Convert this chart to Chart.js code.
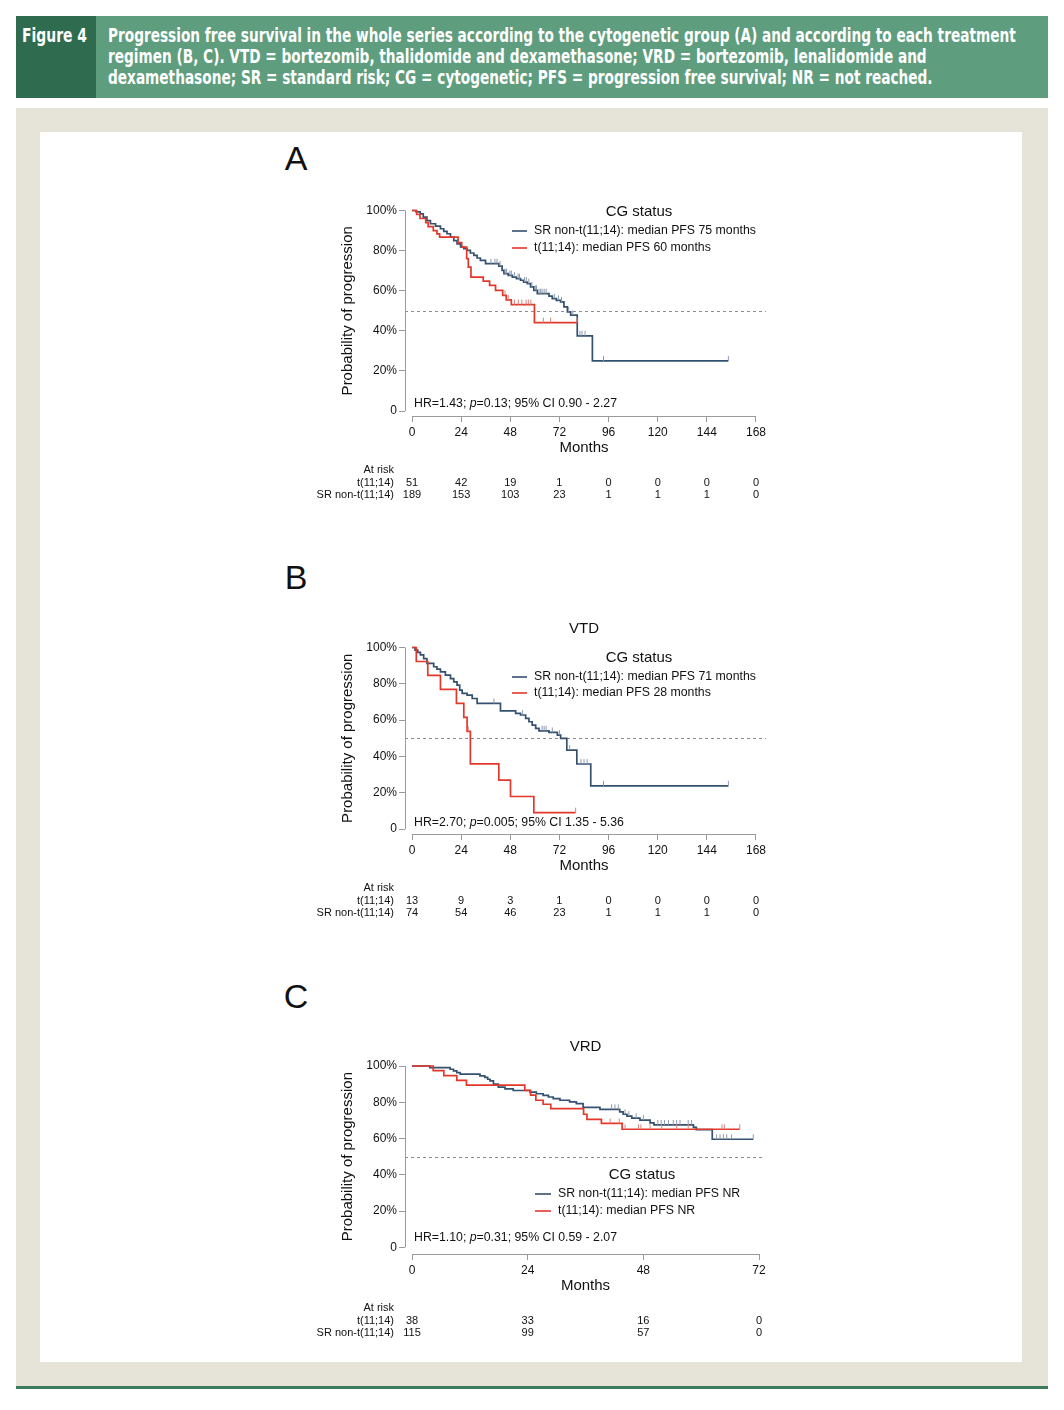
<!DOCTYPE html>
<html>
<head>
<meta charset="utf-8">
<script src="https://cdn.jsdelivr.net/npm/chart.js@4.4.1/dist/chart.umd.min.js"></script>
<style>
  html, body { margin: 0; padding: 0; background: #fff; }
  body { width: 1064px; height: 1410px; position: relative; overflow: hidden; font-family: "Liberation Sans", Arial, sans-serif; }
  #hdrDark { position: absolute; left: 16px; top: 16px; width: 80px; height: 82px; background: #2f6b4e; }
  #hdrLight { position: absolute; left: 96px; top: 16px; width: 952px; height: 82px; background: #5e9d7e; }
  .hdr { position: absolute; color: #fff; font-family: "Liberation Sans Narrow", "DejaVu Sans Condensed", sans-serif; font-weight: bold; font-size: 20px; line-height: 22px; white-space: nowrap; transform-origin: 0 50%; }
  #beige { position: absolute; left: 16px; top: 108px; width: 1032px; height: 1278px; background: #e6e4d9; }
  #white { position: absolute; left: 40px; top: 132px; width: 982px; height: 1230px; background: #fff; }
  #rule { position: absolute; left: 16px; top: 1386px; width: 1032px; height: 3px; background: #3b7a5b; }
  .letter { position: absolute; font-size: 34px; line-height: 34px; color: #111; transform: translate(-50%, -50%); }
  canvas { position: absolute; }
</style>
</head>
<body>
<div id="hdrDark"></div>
<div id="hdrLight"></div>
<div class="hdr" id="figLabel" style="left:22px; top:24px;">Figure 4</div>
<div class="hdr cap" style="left:108px; top:24px;">Progression free survival in the whole series according to the cytogenetic group (A) and according to each treatment</div>
<div class="hdr cap" style="left:108px; top:45px;">regimen (B, C). VTD = bortezomib, thalidomide and dexamethasone; VRD = bortezomib, lenalidomide and</div>
<div class="hdr cap" style="left:108px; top:66px;">dexamethasone; SR = standard risk; CG = cytogenetic; PFS = progression free survival; NR = not reached.</div>
<div id="beige"></div>
<div id="white"></div>
<div id="rule"></div>
<div class="letter" style="left:296px; top:158px;">A</div>
<div class="letter" style="left:296px; top:577px;">B</div>
<div class="letter" style="left:296px; top:996px;">C</div>

<script>
// ---- data ----
const monthsLong = [0, 24, 48, 72, 96, 120, 144, 168];
const monthsShort = [0, 24, 48, 72];
const pctTicks = [0, 20, 40, 60, 80, 100];
const riskRowLabels = ['t(11;14)', 'SR non-t(11;14)'];

// A: whole series  [month, % progression free]
const pfsA_sr = [[0,100],[2,99.3],[4,98.3],[5.5,96.7],[7.3,95],[9,93.4],[11.5,92.2],[13.9,90.9],[15.5,89.6],[17.1,88.4],[18.8,86.7],[20.4,85],[22,83.4],[23.7,81.8],[25.3,81],[26.9,80.1],[28.5,78.8],[30.2,77.6],[31.8,76.3],[33.4,75.1],[35.9,73.5],[42.4,72.3],[44,70.1],[44.9,68.5],[47,67.6],[49,66.8],[51,66],[53,65.2],[54.5,64.3],[56.3,63.5],[57.9,61.9],[59.5,60.2],[61.2,58.5],[66.9,57.3],[68.5,56],[70.5,55.2],[72.6,54.4],[74.2,51.9],[75.9,49.4],[77.5,47.8],[80.7,37.5],[88.1,25],[154.5,25]];
const censA_sr = [[38.5,73.5],[40.5,73.5],[41.5,73.5],[43,72.3],[45.5,68.5],[46.2,68.5],[47.8,67.6],[48.5,67.6],[50,66.8],[51.8,66],[52.5,66],[55,64.3],[55.8,64.3],[57,63.5],[58.5,61.9],[60.2,60.2],[60.8,60.2],[62,58.5],[62.8,58.5],[63.5,58.5],[64.5,58.5],[65.5,58.5],[69.5,56],[71.5,55.2],[73,54.4],[76.5,49.4],[78.5,47.8],[82,37.5],[83,37.5],[84.5,37.5],[93.5,25],[154.5,25]];
const pfsA_t = [[0,100],[2.3,98],[3.9,96],[6.7,94],[7.9,92],[10.4,90],[12.2,88.3],[13.5,86.7],[22.5,84],[24.3,81.7],[26.7,76],[27.5,71.8],[28.8,66.8],[34.8,64.8],[37.9,62.7],[40.8,60.2],[44.3,57.7],[46,55.4],[48.5,53.1],[59.8,44.1],[80.6,44.1]];
const censA_t = [[45.4,57.7],[47,55.4],[50,53.1],[51.9,53.1],[53.6,53.1],[55.7,53.1],[56.8,53.1],[58,53.1],[64.1,44.1],[67.7,44.1],[80.6,44.1]];
const riskA_t = [51, 42, 19, 1, 0, 0, 0, 0];
const riskA_sr = [189, 153, 103, 23, 1, 1, 1, 0];
const medianA = ['75 months', '60 months'];
const hrA = ['HR=1.43; ', 'p', '=0.13; 95% CI 0.90 - 2.27'];

// B: VTD
const pfsB_sr = [[0,100],[1.5,98.6],[2.8,97.3],[4.1,95.9],[5.7,93.9],[7.3,91.2],[10.6,89.4],[12.2,88.1],[13.9,86.6],[16.3,84.8],[18.8,82.9],[20.4,81.1],[22,79.3],[23.3,76.5],[24.5,74.7],[26.9,73.8],[29.4,71.9],[31.8,69.2],[43.2,65.1],[50.6,63.7],[53,62.8],[55.5,60.9],[57.1,59.1],[58.7,57.2],[60.4,55.4],[62,54.1],[66.9,53.2],[71,51.7],[72.6,49.9],[75.6,43.5],[80.5,35.8],[87.3,23.8],[154.5,23.8]];
const censB_sr = [[40,69.2],[54,62.8],[63.5,54.1],[64.5,54.1],[65.5,54.1],[68.5,53.2],[72,51.7],[77,43.5],[82.5,35.8],[84,35.8],[85.5,35.8],[93.5,23.8],[154.5,23.8]];
const pfsB_t = [[0,100],[2.1,92.3],[7.7,84.6],[13.9,76.9],[21.7,69.2],[25.3,61.5],[26.9,53.8],[28.5,35.9],[42.4,26.9],[48.1,17.9],[59.5,9],[79.9,9]];
const censB_t = [[27.5,53.8],[79.9,9]];
const riskB_t = [13, 9, 3, 1, 0, 0, 0, 0];
const riskB_sr = [74, 54, 46, 23, 1, 1, 1, 0];
const medianB = ['71 months', '28 months'];
const hrB = ['HR=2.70; ', 'p', '=0.005; 95% CI 1.35 - 5.36'];

// C: VRD
const pfsC_sr = [[0,100],[3.7,99.1],[7.9,98.2],[8.6,97.3],[9.3,96.4],[10,95.5],[14.1,94.6],[15.1,93.7],[15.7,92.7],[16.2,91.8],[16.9,90],[17.9,88.3],[19.3,87.4],[21,86.5],[24.5,85.6],[25.8,84.7],[27.2,83.8],[28.3,82.9],[29.3,82],[30.7,81.1],[32.7,80.2],[34.1,79.3],[35.5,77.2],[39,76.1],[43.1,74.7],[43.8,73.4],[44.6,72.4],[45.6,71.2],[47.3,70.2],[49.4,68.6],[50.2,67.5],[58.4,66.2],[59,64.9],[62.3,59.6],[70.8,59.6]];
const censC_sr = [[41.4,76.1],[42.1,76.1],[42.8,76.1],[44.2,73.4],[45,72.4],[46.5,71.2],[48,70.2],[51,67.5],[51.7,67.5],[52.4,67.5],[53.2,67.5],[54.2,67.5],[54.9,67.5],[55.6,67.5],[57.3,67.5],[58,67.5],[63.2,59.6],[63.9,59.6],[64.6,59.6],[65.3,59.6],[66.3,59.6],[70.8,59.6]];
const pfsC_t = [[0,100],[4.4,97.4],[6.6,94.7],[9.3,92.1],[11.3,89.5],[23.4,86.6],[24.6,83.9],[25.7,81.1],[27.2,78.9],[28.8,76.5],[35.6,73.4],[36.3,70.6],[39.3,68.3],[43.6,65.1],[68,65.1]];
const censC_t = [[41.1,68.3],[43,68.3],[44.2,65.1],[47,65.1],[47.5,65.1],[49.4,65.1],[51.8,65.1],[54.9,65.1],[57.3,65.1],[64.3,65.1],[64.8,65.1],[68,65.1]];
const riskC_t = [38, 33, 16, 0];
const riskC_sr = [115, 99, 57, 0];
const medianC = ['NR', 'NR'];
const hrC = ['HR=1.10; ', 'p', '=0.31; 95% CI 0.59 - 2.07'];

// ---- style ----
const FONT = '"Liberation Sans", Arial, Helvetica, sans-serif';
const BLUE = '#34516f';
const RED = '#e2382c';
const AXIS = '#9a9a9a';
const TEXT = '#111';

// fit the condensed header lines (one scale for all, set by the first line)
const capLines = document.querySelectorAll('.hdr.cap');
const capScale = 908 / capLines[0].scrollWidth;
capLines.forEach(el => { el.style.transform = 'scaleX(' + capScale + ')'; });
const fl = document.getElementById('figLabel');
fl.style.transform = 'scaleX(' + (65 / fl.scrollWidth) + ')';

function censorMark(color) {
  const c = document.createElement('canvas');
  c.width = 3; c.height = 12;
  const g = c.getContext('2d');
  g.strokeStyle = color; g.lineWidth = 1;
  g.beginPath(); g.moveTo(1.5, 1); g.lineTo(1.5, 6); g.stroke();
  return c;
}
const markBlue = censorMark('#8d9aae');
const markRed = censorMark('#d9837c');

const toXY = arr => arr.map(d => ({ x: d[0], y: d[1] }));

// p: page-pixel geometry of one panel
function makePanel(p) {
  const cLeft = 290, cWidth = 500;
  const cTop = p.top - 50, cHeight = p.axisY + 90 - cTop;
  const cv = document.createElement('canvas');
  cv.width = cWidth; cv.height = cHeight;
  cv.style.left = cLeft + 'px'; cv.style.top = cTop + 'px';
  cv.style.width = cWidth + 'px'; cv.style.height = cHeight + 'px';
  document.body.appendChild(cv);

  const lastM = p.months[p.months.length - 1];
  const pxm = (p.xEnd - p.x0) / lastM;
  const pxp = (p.y0 - p.y100) / 100;
  const xMin = (p.axisX - p.x0) / pxm, xMax = (p.right - p.x0) / pxm;
  const yMin = (p.y0 - p.axisY) / pxp, yMax = (p.y0 - p.top) / pxp;
  const areaLeft = p.axisX - cLeft;
  const areaBottom = p.axisY - cTop;
  const xAxisH = 30;

  const kmPlugin = {
    id: 'km',
    beforeDatasetsDraw(chart) {
      const { ctx, chartArea, scales: { x, y } } = chart;
      ctx.save();
      ctx.lineWidth = 1;
      ctx.strokeStyle = '#8c8c8c';
      ctx.setLineDash([3, 3]);
      const y50 = Math.round(y.getPixelForValue(50)) + 0.5;
      ctx.beginPath(); ctx.moveTo(chartArea.left, y50); ctx.lineTo(chartArea.right, y50); ctx.stroke();
      ctx.setLineDash([]);
      ctx.strokeStyle = AXIS;
      const ax = Math.round(chartArea.left) + 0.5;
      ctx.beginPath(); ctx.moveTo(ax, y.getPixelForValue(0)); ctx.lineTo(ax, y.getPixelForValue(100)); ctx.stroke();
      const ay = Math.round(chartArea.bottom) + 0.5;
      ctx.beginPath(); ctx.moveTo(x.getPixelForValue(0), ay); ctx.lineTo(x.getPixelForValue(lastM), ay); ctx.stroke();
      ctx.restore();
    },
    afterDraw(chart) {
      const { ctx, chartArea, scales: { x, y } } = chart;
      const bottom = chartArea.bottom;
      const midX = (x.getPixelForValue(0) + x.getPixelForValue(lastM)) / 2;
      ctx.save();
      ctx.fillStyle = TEXT;
      ctx.textBaseline = 'middle';

      // y title
      ctx.save();
      ctx.font = '15px ' + FONT;
      ctx.textAlign = 'center';
      ctx.translate(348 - cLeft, (y.getPixelForValue(0) + y.getPixelForValue(100)) / 2);
      ctx.rotate(-Math.PI / 2);
      ctx.fillText('Probability of progression', 0, 0);
      ctx.restore();

      // x title, panel title
      ctx.font = '15px ' + FONT;
      ctx.textAlign = 'center';
      ctx.fillText('Months', midX, bottom + 32);
      if (p.title) ctx.fillText(p.title, midX, y.getPixelForValue(100) - 19);

      // legend
      const L = p.legend;
      ctx.fillText('CG status', L.titleX - cLeft, L.titleY - cTop);
      ctx.font = '12.3px ' + FONT;
      ctx.textAlign = 'left';
      [[BLUE, 'SR non-t(11;14): median PFS ' + p.median[0], L.row1Y],
       [RED, 't(11;14): median PFS ' + p.median[1], L.row2Y]].forEach(r => {
        ctx.strokeStyle = r[0]; ctx.lineWidth = 1.6;
        ctx.beginPath();
        ctx.moveTo(L.lineX1 - cLeft, r[2] - cTop); ctx.lineTo(L.lineX2 - cLeft, r[2] - cTop);
        ctx.stroke();
        ctx.fillText(r[1], L.textX - cLeft, r[2] - cTop);
      });

      // HR text with italic p
      let hx = 414 - cLeft;
      const hy = p.hrY - cTop;
      p.hr.forEach((s, i) => {
        ctx.font = (i === 1 ? 'italic ' : '') + '12.3px ' + FONT;
        ctx.fillText(s, hx, hy);
        hx += ctx.measureText(s).width;
      });

      // at-risk table
      ctx.font = '11px ' + FONT;
      ctx.textAlign = 'right';
      const lx = 394 - cLeft;
      ctx.fillText('At risk', lx, bottom + 54);
      ctx.fillText(riskRowLabels[0], lx, bottom + 66.5);
      ctx.fillText(riskRowLabels[1], lx, bottom + 78.5);
      ctx.textAlign = 'center';
      p.months.forEach((m, i) => {
        const px = x.getPixelForValue(m);
        ctx.fillText(String(p.riskT[i]), px, bottom + 66.5);
        ctx.fillText(String(p.riskSR[i]), px, bottom + 78.5);
      });
      ctx.restore();
    }
  };

  const gridOpts = { display: true, drawOnChartArea: false, drawTicks: true, tickLength: 6, color: AXIS, lineWidth: 1 };

  return new Chart(cv, {
    type: 'line',
    data: {
      datasets: [
        { label: 't(11;14)', data: toXY(p.t), borderColor: RED, borderWidth: 1.7, stepped: true, pointRadius: 0, fill: false, order: 2 },
        { label: 'SR non-t(11;14)', data: toXY(p.sr), borderColor: BLUE, borderWidth: 1.7, stepped: true, pointRadius: 0, fill: false, order: 3 },
        { type: 'scatter', data: toXY(p.tCens), pointStyle: markRed, pointRadius: 3, showLine: false, order: 0 },
        { type: 'scatter', data: toXY(p.srCens), pointStyle: markBlue, pointRadius: 3, showLine: false, order: 1 }
      ]
    },
    options: {
      responsive: false,
      animation: false,
      events: [],
      layout: { padding: { left: 0, top: p.top - cTop, right: cWidth - (p.right - cLeft), bottom: cHeight - areaBottom - xAxisH } },
      plugins: { legend: { display: false }, tooltip: { enabled: false } },
      scales: {
        x: {
          type: 'linear', min: xMin, max: xMax,
          afterBuildTicks: s => { s.ticks = p.months.map(v => ({ value: v })); },
          afterFit: s => { s.height = xAxisH; },
          grid: gridOpts,
          border: { display: false },
          ticks: { color: TEXT, font: { family: FONT, size: 12 }, padding: 3, maxRotation: 0, autoSkip: false }
        },
        y: {
          type: 'linear', min: yMin, max: yMax,
          afterBuildTicks: s => { s.ticks = pctTicks.map(v => ({ value: v })); },
          afterFit: s => { s.width = areaLeft; },
          grid: gridOpts,
          border: { display: false },
          ticks: { color: TEXT, font: { family: FONT, size: 12 }, padding: 2, autoSkip: false,
                   callback: v => v === 0 ? '0' : v + '%' }
        }
      }
    },
    plugins: [kmPlugin]
  });
}

makePanel({
  months: monthsLong, x0: 412, xEnd: 756, y100: 210.5, y0: 411, axisX: 405, axisY: 416, right: 766, top: 204,
  sr: pfsA_sr, srCens: censA_sr, t: pfsA_t, tCens: censA_t, riskT: riskA_t, riskSR: riskA_sr,
  median: medianA, hr: hrA, hrY: 404, title: null,
  legend: { titleX: 639, titleY: 212, lineX1: 512, lineX2: 527, textX: 534, row1Y: 231, row2Y: 248 }
});
makePanel({
  months: monthsLong, x0: 412, xEnd: 756, y100: 647.5, y0: 829, axisX: 405, axisY: 834, right: 766, top: 641,
  sr: pfsB_sr, srCens: censB_sr, t: pfsB_t, tCens: censB_t, riskT: riskB_t, riskSR: riskB_sr,
  median: medianB, hr: hrB, hrY: 823, title: 'VTD',
  legend: { titleX: 639, titleY: 658, lineX1: 512, lineX2: 527, textX: 534, row1Y: 677, row2Y: 693 }
});
makePanel({
  months: monthsShort, x0: 412, xEnd: 759, y100: 1066, y0: 1247.3, axisX: 405, axisY: 1254, right: 765, top: 1059,
  sr: pfsC_sr, srCens: censC_sr, t: pfsC_t, tCens: censC_t, riskT: riskC_t, riskSR: riskC_sr,
  median: medianC, hr: hrC, hrY: 1238, title: 'VRD',
  legend: { titleX: 642, titleY: 1175, lineX1: 535, lineX2: 551, textX: 558, row1Y: 1194, row2Y: 1211 }
});
</script>
</body>
</html>
